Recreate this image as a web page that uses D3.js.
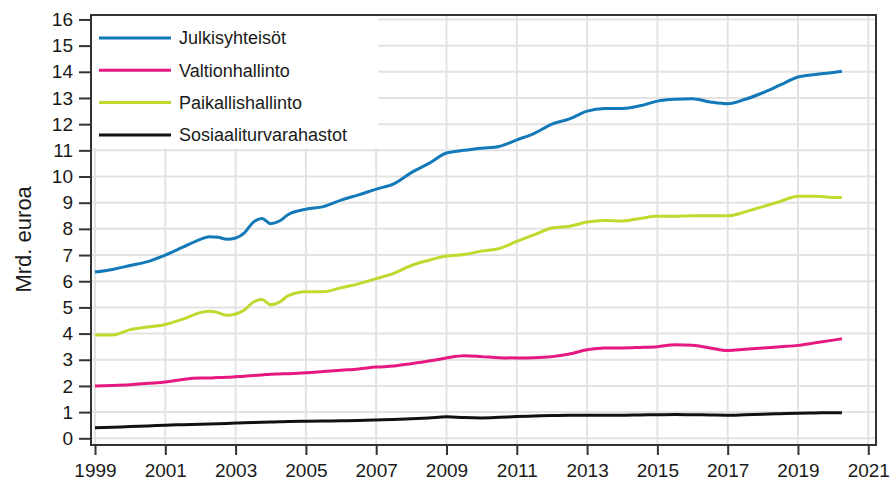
<!DOCTYPE html>
<html>
<head>
<meta charset="utf-8">
<script src="https://cdn.jsdelivr.net/npm/d3@7"></script>
<style>
  body { margin: 0; background: #fff; }
  svg { display: block; font-family: "Liberation Sans", Arial, sans-serif; }
</style>
</head>
<body>
<svg width="893" height="491"></svg>
<script>
// aikapisteet (vuosi desimaalina)
var periods = [1999, 1999.5, 2000, 2000.5, 2001, 2001.5,
  2002, 2002.25, 2002.5, 2002.75, 2003, 2003.25, 2003.5, 2003.75, 2004, 2004.25, 2004.5,
  2005, 2005.5, 2006, 2006.5, 2007, 2007.5, 2008, 2008.5, 2009, 2009.5, 2010, 2010.5,
  2011, 2011.5, 2012, 2012.5, 2013, 2013.5, 2014, 2014.5, 2015, 2015.5, 2016, 2016.5,
  2017, 2017.5, 2018, 2018.5, 2019, 2019.5, 2020, 2020.25]

var julkisyhteisot = [6.35, 6.45, 6.6, 6.75, 7.0, 7.3,
  7.6, 7.7, 7.68, 7.6, 7.65, 7.85, 8.25, 8.4, 8.2, 8.3, 8.55,
  8.75, 8.85, 9.1, 9.3, 9.52, 9.72, 10.15, 10.5, 10.9, 11.0, 11.08, 11.15,
  11.4, 11.65, 12.0, 12.2, 12.5, 12.6, 12.6, 12.7, 12.88, 12.95, 12.97, 12.85,
  12.78, 12.95, 13.2, 13.5, 13.8, 13.9, 13.97, 14.02]

var valtionhallinto = [2.0, 2.02, 2.05, 2.1, 2.15, 2.25,
  2.3, 2.3, 2.32, 2.33, 2.35, 2.37, 2.4, 2.42, 2.45, 2.46, 2.47,
  2.5, 2.55, 2.6, 2.65, 2.72, 2.76, 2.85, 2.95, 3.07, 3.15, 3.12, 3.08,
  3.07, 3.08, 3.12, 3.22, 3.38, 3.45, 3.45, 3.47, 3.5, 3.57, 3.55, 3.45,
  3.35, 3.4, 3.45, 3.5, 3.55, 3.65, 3.75, 3.8]

var paikallishallinto = [3.95, 3.95, 4.15, 4.25, 4.35, 4.55,
  4.8, 4.85, 4.8, 4.7, 4.75, 4.9, 5.2, 5.3, 5.1, 5.2, 5.45,
  5.6, 5.6, 5.75, 5.9, 6.1, 6.3, 6.6, 6.8, 6.96, 7.02, 7.15, 7.25,
  7.52, 7.78, 8.03, 8.1, 8.26, 8.32, 8.3, 8.4, 8.48, 8.48, 8.5, 8.5,
  8.5, 8.65, 8.85, 9.05, 9.25, 9.25, 9.2, 9.2]

var sosiaaliturva = [0.4, 0.42, 0.45, 0.47, 0.5, 0.52,
  0.54, 0.55, 0.56, 0.57, 0.58, 0.59, 0.6, 0.61, 0.62, 0.63, 0.64,
  0.65, 0.66, 0.67, 0.68, 0.7, 0.72, 0.75, 0.78, 0.82, 0.79, 0.78, 0.8,
  0.83, 0.85, 0.87, 0.88, 0.88, 0.88, 0.88, 0.89, 0.9, 0.91, 0.9, 0.89,
  0.88, 0.9, 0.92, 0.94, 0.96, 0.97, 0.98, 0.98]

var seriesNames = ['Julkisyhteisöt', 'Valtionhallinto', 'Paikallishallinto', 'Sosiaaliturvarahastot']
var seriesColors = ['#1379b8', '#e5197f', '#c3d82f', '#111111']
var seriesValues = [julkisyhteisot, valtionhallinto, paikallishallinto, sosiaaliturva]

var xTicks = d3.range(1999, 2022, 2)
var yTicks = d3.range(0, 17, 1)

var svg = d3.select("svg"),
    width = +svg.attr("width"),
    height = +svg.attr("height")

var margin = {left: 91, right: 17, top: 15, bottom: 46}

var x = d3.scaleLinear()
  .domain([1998.886, 2021.22])
  .range([margin.left, width - margin.right])

var y = d3.scaleLinear()
  .domain([-0.256, 16.17])
  .range([height - margin.bottom, margin.top])

// ruudukko
svg.append("g")
  .selectAll("line.h")
  .data(yTicks)
  .enter().append("line")
    .attr("x1", margin.left).attr("x2", width - margin.right)
    .attr("y1", d => y(d)).attr("y2", d => y(d))
    .style("stroke", "#e3e3e3").style("stroke-width", 2)

svg.append("g")
  .selectAll("line.v")
  .data(xTicks)
  .enter().append("line")
    .attr("x1", d => x(d)).attr("x2", d => x(d))
    .attr("y1", margin.top).attr("y2", height - margin.bottom)
    .style("stroke", "#e3e3e3").style("stroke-width", 2)

// viivat
var line = d3.line()
  .x((d, i) => x(periods[i]))
  .y(d => y(d))
  .curve(d3.curveMonotoneX)

seriesValues.forEach(function (vals, k) {
  svg.append("path")
    .datum(vals)
    .attr("d", line)
    .style("fill", "none")
    .style("stroke", seriesColors[k])
    .style("stroke-width", 3)
    .style("stroke-linejoin", "round")
})

// kehys
svg.append("rect")
  .attr("x", margin.left).attr("y", margin.top)
  .attr("width", width - margin.left - margin.right)
  .attr("height", height - margin.top - margin.bottom)
  .style("fill", "none").style("stroke", "#333").style("stroke-width", 2)

// akselit
var xAxis = svg.append("g")
  .attr("transform", "translate(0," + (height - margin.bottom + 1) + ")")
  .call(d3.axisBottom(x).tickValues(xTicks).tickFormat(d3.format("d")).tickSize(9).tickPadding(9))
xAxis.select(".domain").remove()

var yAxis = svg.append("g")
  .attr("transform", "translate(" + (margin.left - 1) + ",0)")
  .call(d3.axisLeft(y).tickValues(yTicks).tickSize(11).tickPadding(6))
yAxis.select(".domain").remove()

svg.selectAll(".tick line").style("stroke", "#333").style("stroke-width", 2)
svg.selectAll(".tick text").style("font-size", "19px").style("fill", "#1a1a1a")
  .style("font-family", "'Liberation Sans', Arial, sans-serif")

svg.append("text")
  .attr("transform", "translate(31," + y(7.6) + ") rotate(-90)")
  .attr("text-anchor", "middle")
  .style("font-size", "22px").style("fill", "#1a1a1a")
  .text("Mrd. euroa")

// selite
var legend = svg.append("g")
legend.append("rect")
  .attr("x", margin.left + 1).attr("y", margin.top + 1)
  .attr("width", 286).attr("height", 132)
  .style("fill", "#fff")

seriesNames.forEach(function (name, k) {
  var ly = 38 + k * 32.3
  legend.append("line")
    .attr("x1", 99).attr("x2", 171)
    .attr("y1", ly).attr("y2", ly)
    .style("stroke", seriesColors[k]).style("stroke-width", 3)
  legend.append("text")
    .attr("x", 179).attr("y", ly)
    .attr("dy", "0.35em")
    .style("font-size", "18px").style("fill", "#1a1a1a")
    .text(name)
})
</script>
</body>
</html>
